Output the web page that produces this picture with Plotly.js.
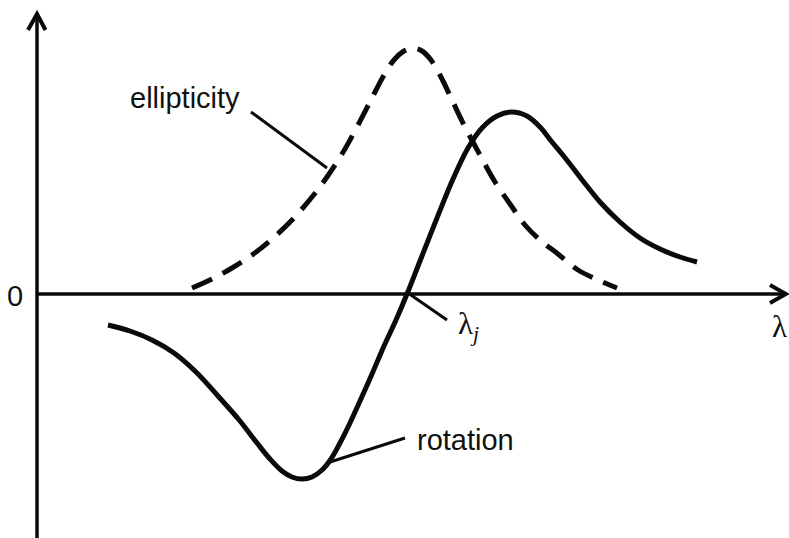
<!DOCTYPE html>
<html>
<head>
<meta charset="utf-8">
<script src="https://cdn.plot.ly/plotly-3.0.1.min.js"></script>
<style>
  html, body { margin: 0; padding: 0; background: #ffffff; }
  #chart { width: 789px; height: 538px; }
</style>
</head>
<body>
<div id="chart"></div>
<script>
// Wavelength (arbitrary units, origin at the vertical axis) and signal (arbitrary units)
const rotationLambda = [7.1, 9.3, 11.5, 13.7, 15.9, 18.1, 20.3, 22.0, 23.3, 24.5, 25.5, 26.5, 27.5,
  28.5, 29.4, 30.3, 31.3, 32.3, 33.5, 34.7, 35.9, 37.0, 38.3, 40.0, 41.6, 43.1, 44.5, 46.0, 47.5,
  49.0, 50.3, 51.5, 52.9, 54.6, 56.3, 58.3, 60.3, 62.3, 64.3, 66.0];
const rotationValue = [-3.1, -3.7, -4.6, -5.9, -7.8, -10.2, -12.7, -14.9, -16.5, -17.7, -18.3, -18.5, -18.3,
  -17.6, -16.5, -14.9, -12.9, -10.7, -8.0, -5.2, -2.6, 0.0, 3.3, 7.6, 11.5, 14.6, 16.6, 17.8, 18.2,
  17.8, 16.7, 15.2, 13.5, 11.3, 9.2, 7.2, 5.6, 4.5, 3.7, 3.2];

const ellipticityLambda = [15.5, 17.5, 19.5, 21.5, 23.5, 25.5, 27.5, 29.0, 30.5, 32.0, 33.5, 34.7,
  35.7, 36.7, 37.6, 38.5, 39.4, 40.4, 41.5, 42.8, 44.3, 45.8, 47.3, 48.8, 50.3, 52.1, 54.1, 56.1, 58.0];
const ellipticityValue = [0.6, 1.5, 2.6, 3.9, 5.5, 7.4, 9.7, 11.7, 14.0, 16.7, 19.6, 21.9,
  23.4, 24.3, 24.6, 24.3, 23.4, 21.7, 19.4, 16.7, 13.9, 11.2, 9.0, 6.9, 5.4, 4.0, 2.4, 1.4, 0.6];

// Crossover wavelength where the rotation changes sign
const lambdaJ = 37.0;

const labelFont = { family: 'Liberation Sans, Arial, sans-serif', size: 29, color: '#111111' };
const symbolFont = { family: 'Liberation Serif, DejaVu Serif, serif', size: 31, color: '#111111' };
const ink = '#0a0a0a';

const traces = [
  {
    x: rotationLambda, y: rotationValue, type: 'scatter', mode: 'lines',
    line: { color: ink, width: 5, shape: 'spline', smoothing: 1 },
    hoverinfo: 'skip', name: 'rotation'
  },
  {
    x: ellipticityLambda, y: ellipticityValue, type: 'scatter', mode: 'lines',
    line: { color: ink, width: 5, shape: 'spline', smoothing: 1, dash: '22px,12px' },
    hoverinfo: 'skip', name: 'ellipticity'
  }
];

const xMin = -3.7, xMax = 75.2, yMin = -24.4, yMax = 29.4;
const xTip = 74.9, yTip = 28.0;

const shapes = [
  // axes
  { type: 'line', xref: 'x', yref: 'y', x0: 0, y0: yMin, x1: 0, y1: yTip, line: { color: ink, width: 3.5 } },
  { type: 'line', xref: 'x', yref: 'y', x0: 0, y0: 0, x1: xTip, y1: 0, line: { color: ink, width: 3.5 } },
  // arrow heads
  { type: 'path', xref: 'x', yref: 'y', path: `M -0.9,${yTip - 1.6} L 0,${yTip} L 0.85,${yTip - 1.6}`, line: { color: ink, width: 4 } },
  { type: 'path', xref: 'x', yref: 'y', path: `M ${xTip - 1.6},0.9 L ${xTip},0 L ${xTip - 1.6},-0.9`, line: { color: ink, width: 4 } },
  // leader lines
  { type: 'line', xref: 'x', yref: 'y', x0: 21.4, y0: 18.2, x1: 29.0, y1: 12.6, line: { color: ink, width: 3 } },
  { type: 'line', xref: 'x', yref: 'y', x0: 36.8, y0: -14.4, x1: 29.3, y1: -16.8, line: { color: ink, width: 3 } },
  { type: 'line', xref: 'x', yref: 'y', x0: lambdaJ + 0.1, y0: 0.1, x1: 41.0, y1: -2.6, line: { color: ink, width: 3 } }
];

const annotations = [
  { x: -2.2, y: -0.2, text: '0', showarrow: false, font: labelFont, xanchor: 'center', yanchor: 'middle' },
  { x: 74.2, y: -3.2, text: 'λ', showarrow: false, font: symbolFont, xanchor: 'center', yanchor: 'middle' },
  { x: 41.9, y: -3.2, text: 'λ<sub><i>j</i></sub>', showarrow: false, font: symbolFont, xanchor: 'left', yanchor: 'middle' },
  { x: 14.8, y: 19.6, text: 'ellipticity', showarrow: false, font: labelFont, xanchor: 'center', yanchor: 'middle' },
  { x: 42.8, y: -14.6, text: 'rotation', showarrow: false, font: labelFont, xanchor: 'center', yanchor: 'middle' }
];

const layout = {
  width: 789, height: 538,
  margin: { l: 0, r: 0, t: 0, b: 0, pad: 0 },
  paper_bgcolor: '#ffffff', plot_bgcolor: '#ffffff',
  showlegend: false,
  xaxis: { range: [xMin, xMax], visible: false, fixedrange: true },
  yaxis: { range: [yMin, yMax], visible: false, fixedrange: true },
  shapes: shapes,
  annotations: annotations
};

Plotly.newPlot('chart', traces, layout, { staticPlot: true, displayModeBar: false });
</script>
</body>
</html>
